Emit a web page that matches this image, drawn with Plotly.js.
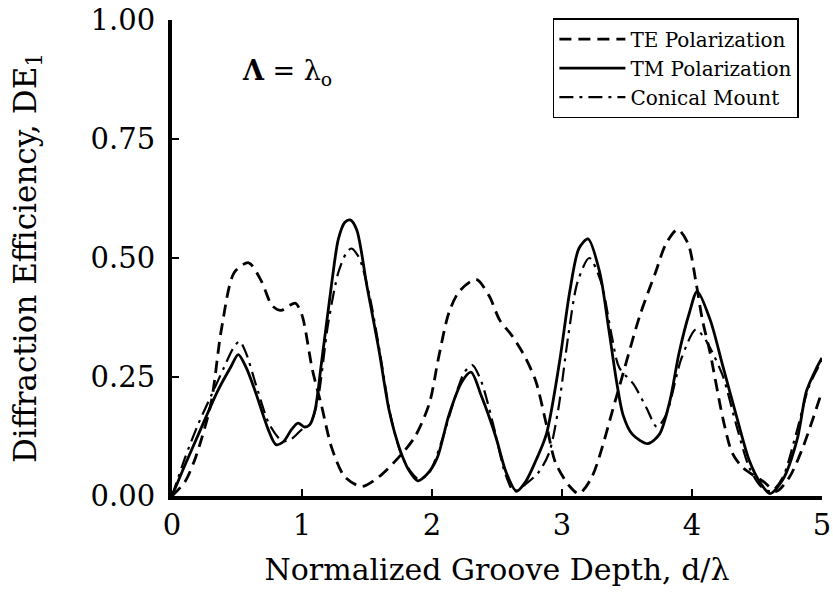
<!DOCTYPE html>
<html>
<head>
<meta charset="utf-8">
<script src="https://cdn.plot.ly/plotly-3.0.1.min.js"></script>
<style>
  html, body { margin: 0; padding: 0; background: #fff; }
  #chart { width: 833px; height: 594px; }
</style>
</head>
<body>
<div id="chart"></div>
<script>
// First-order diffraction efficiency vs. normalized groove depth (Λ = λo)
const teDepth = [0, 0.10, 0.18, 0.30, 0.38, 0.48, 0.59, 0.69, 0.77, 0.84, 0.90, 0.95, 1.00, 1.08, 1.15, 1.23, 1.33, 1.46, 1.59, 1.74, 1.87, 1.98, 2.05, 2.13, 2.21, 2.34, 2.44, 2.52, 2.62, 2.72, 2.80, 2.88, 2.95, 3.06, 3.13, 3.23, 3.42, 3.60, 3.72, 3.80, 3.89, 3.97, 4.03, 4.08, 4.14, 4.24, 4.31, 4.39, 4.55, 4.65, 4.75, 4.85, 5.00];
const teEff   = [0, 0.03, 0.08, 0.195, 0.35, 0.47, 0.49, 0.45, 0.40, 0.39, 0.40, 0.405, 0.38, 0.265, 0.19, 0.10, 0.04, 0.02, 0.04, 0.08, 0.125, 0.195, 0.29, 0.385, 0.43, 0.455, 0.42, 0.37, 0.335, 0.29, 0.24, 0.15, 0.07, 0.02, 0.005, 0.04, 0.21, 0.38, 0.47, 0.53, 0.56, 0.53, 0.45, 0.37, 0.30, 0.16, 0.09, 0.06, 0.03, 0.01, 0.04, 0.10, 0.22];

const tmDepth = [0, 0.10, 0.22, 0.35, 0.45, 0.51, 0.57, 0.64, 0.74, 0.80, 0.86, 0.92, 0.97, 1.02, 1.06, 1.10, 1.15, 1.23, 1.28, 1.33, 1.37, 1.42, 1.50, 1.59, 1.67, 1.75, 1.82, 1.89, 1.96, 2.04, 2.13, 2.23, 2.30, 2.38, 2.49, 2.57, 2.65, 2.72, 2.80, 2.88, 2.98, 3.06, 3.13, 3.20, 3.29, 3.36, 3.42, 3.47, 3.54, 3.66, 3.75, 3.83, 3.90, 3.98, 4.04, 4.14, 4.24, 4.34, 4.44, 4.52, 4.60, 4.70, 4.81, 4.88, 4.96, 5.00];
const tmEff   = [0, 0.065, 0.14, 0.22, 0.27, 0.297, 0.27, 0.22, 0.14, 0.108, 0.115, 0.14, 0.153, 0.145, 0.15, 0.18, 0.28, 0.45, 0.54, 0.575, 0.58, 0.56, 0.44, 0.31, 0.18, 0.10, 0.055, 0.032, 0.045, 0.08, 0.17, 0.24, 0.26, 0.21, 0.125, 0.05, 0.01, 0.03, 0.075, 0.13, 0.28, 0.43, 0.52, 0.54, 0.47, 0.35, 0.24, 0.17, 0.13, 0.11, 0.13, 0.20, 0.30, 0.385, 0.43, 0.37, 0.27, 0.17, 0.075, 0.03, 0.005, 0.035, 0.12, 0.22, 0.27, 0.29];

const conDepth = [0, 0.10, 0.20, 0.30, 0.40, 0.47, 0.52, 0.57, 0.65, 0.75, 0.85, 0.92, 1.00, 1.06, 1.12, 1.20, 1.28, 1.34, 1.38, 1.44, 1.52, 1.60, 1.68, 1.76, 1.84, 1.90, 1.98, 2.08, 2.18, 2.25, 2.31, 2.38, 2.48, 2.56, 2.63, 2.72, 2.82, 2.90, 2.97, 3.05, 3.12, 3.21, 3.30, 3.38, 3.44, 3.55, 3.65, 3.73, 3.80, 3.92, 4.03, 4.10, 4.16, 4.24, 4.34, 4.44, 4.53, 4.61, 4.70, 4.80, 4.90, 5.00];
const conEff   = [0, 0.08, 0.15, 0.21, 0.27, 0.31, 0.325, 0.30, 0.23, 0.15, 0.115, 0.12, 0.14, 0.15, 0.20, 0.36, 0.47, 0.51, 0.52, 0.50, 0.42, 0.30, 0.17, 0.09, 0.05, 0.035, 0.05, 0.12, 0.21, 0.26, 0.275, 0.24, 0.14, 0.05, 0.01, 0.025, 0.05, 0.09, 0.18, 0.34, 0.45, 0.50, 0.45, 0.34, 0.27, 0.235, 0.185, 0.145, 0.17, 0.29, 0.35, 0.33, 0.30, 0.25, 0.15, 0.06, 0.02, 0.01, 0.04, 0.13, 0.23, 0.285];

const xTicks = [0, 1, 2, 3, 4, 5];
const yTicks = [0, 0.25, 0.5, 0.75, 1.0];

const serif = 'DejaVu Serif, Liberation Serif, serif';

const traces = [
  { name: 'TE Polarization', x: teDepth, y: teEff, mode: 'lines',
    line: { color: '#000', width: 2.8, dash: '12px,7px', shape: 'spline', smoothing: 0.8 } },
  { name: 'TM Polarization', x: tmDepth, y: tmEff, mode: 'lines',
    line: { color: '#000', width: 2.8, shape: 'spline', smoothing: 0.8 } },
  { name: 'Conical Mount', x: conDepth, y: conEff, mode: 'lines',
    line: { color: '#000', width: 2.2, dash: '14px,6px,3px,6px', shape: 'spline', smoothing: 0.8 } }
];

const layout = {
  width: 833, height: 594,
  paper_bgcolor: '#fff', plot_bgcolor: '#fff',
  margin: { l: 172, r: 11, t: 20, b: 98, pad: 0 },
  font: { family: serif, color: '#000' },
  showlegend: true,
  legend: {
    x: 0.586, y: 1.004, xanchor: 'left', yanchor: 'top',
    bordercolor: '#000', borderwidth: 1.5, bgcolor: '#fff',
    font: { family: serif, size: 20, color: '#000' },
    tracegroupgap: 0, itemwidth: 66
  },
  xaxis: {
    range: [0, 5], tickvals: xTicks, ticktext: xTicks.map(String),
    showgrid: false, zeroline: false, showline: true, linecolor: '#000', linewidth: 4,
    ticks: 'inside', ticklen: 7, tickwidth: 1.2, tickcolor: '#000',
    tickfont: { family: serif, size: 29 },
    title: { text: 'Normalized Groove Depth, d/λ', font: { family: serif, size: 30 }, standoff: 19 },
    automargin: false
  },
  yaxis: {
    range: [0, 1], tickvals: yTicks, tickformat: '.2f',
    showgrid: false, zeroline: false, showline: true, linecolor: '#000', linewidth: 4,
    ticks: 'inside', ticklen: 7, tickwidth: 1.2, tickcolor: '#000',
    ticklabelstandoff: 7,
    tickfont: { family: serif, size: 29 },
    title: { text: 'Diffraction Efficiency, DE<sub>1</sub>', font: { family: serif, size: 31 }, standoff: 46 },
    automargin: false
  },
  annotations: [{
    xref: 'paper', yref: 'paper', x: 0.177, y: 0.89, xanchor: 'center', yanchor: 'middle',
    text: '<b>Λ</b> = λ<sub>o</sub>', showarrow: false,
    font: { family: serif, size: 27, color: '#000' }
  }]
};

Plotly.newPlot('chart', traces, layout, { staticPlot: true, displayModeBar: false });
</script>
</body>
</html>
